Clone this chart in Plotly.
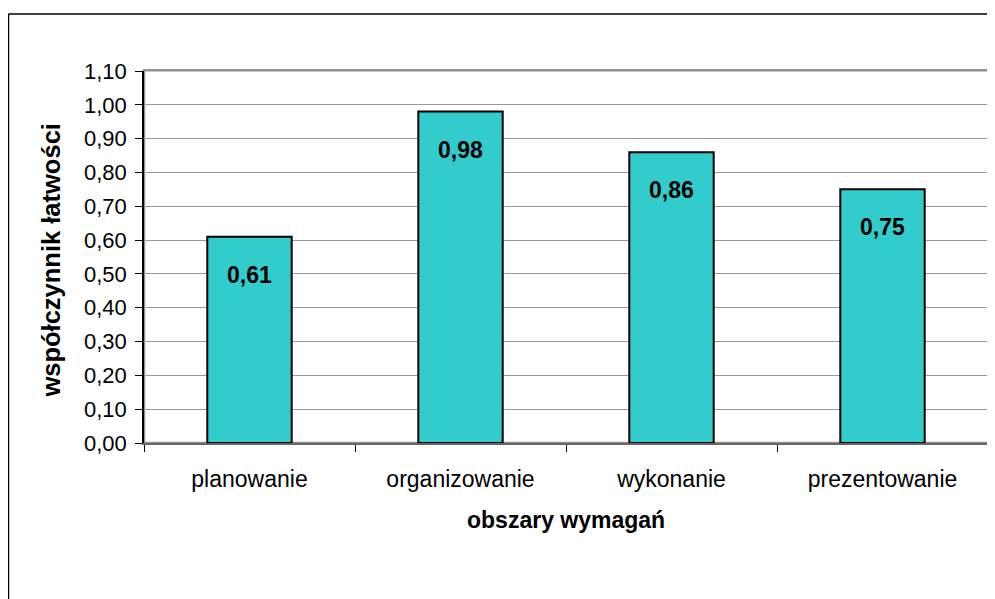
import plotly.graph_objects as go

categories = ["planowanie", "organizowanie", "wykonanie", "prezentowanie"]
values = [0.61, 0.98, 0.86, 0.75]
value_labels = ["0,61", "0,98", "0,86", "0,75"]
y_ticks = [0.0, 0.1, 0.2, 0.3, 0.4, 0.5, 0.6, 0.7, 0.8, 0.9, 1.0, 1.1]
x_title = "obszary wymagań"
y_title = "współczynnik łatwości"

font_family = "Liberation Sans, Arial, sans-serif"

fig = go.Figure()
fig.add_trace(go.Bar(
    x=categories, y=values,
    marker=dict(color="#33CCCC", line=dict(color="black", width=2)),
    width=0.4,
    hoverinfo="skip",
))

for c, v, t in zip(categories, values, value_labels):
    fig.add_annotation(x=c, y=v, text="<b>%s</b>" % t, showarrow=False,
                       yanchor="middle", yshift=-38,
                       font=dict(family=font_family, size=23, color="black"))

# axis titles
fig.add_annotation(xref="paper", yref="paper", x=0.5, y=-0.207, text="<b>%s</b>" % x_title,
                   showarrow=False, xanchor="center", yanchor="middle",
                   font=dict(family=font_family, size=23, color="black"))
fig.add_annotation(xref="paper", yref="paper", x=-0.1102, y=0.493, text="<b>%s</b>" % y_title,
                   showarrow=False, xanchor="center", yanchor="middle", textangle=-90,
                   font=dict(family=font_family, size=25.5, color="black"))

# outer chart frame (top and left edges visible)
fig.add_shape(type="line", xref="paper", yref="paper", x0=-0.16055, x1=1.01, y0=1.1532, y1=1.1532,
              line=dict(color="black", width=1.5))
fig.add_shape(type="line", xref="paper", yref="paper", x0=-0.16055, x1=-0.16055, y0=1.1532, y1=-0.5,
              line=dict(color="black", width=1.5))
# plot area border (gray)
fig.add_shape(type="rect", xref="paper", yref="paper", x0=0, x1=1.001, y0=0, y1=1.002,
              line=dict(color="#929292", width=2.5), layer="below")

fig.update_layout(
    width=987, height=591,
    margin=dict(l=136, r=7, t=63, b=156),
    paper_bgcolor="white", plot_bgcolor="white",
    separators=", ",
    showlegend=False,
    font=dict(family=font_family, size=22, color="black"),
    xaxis=dict(
        showline=True, linecolor="#666666", linewidth=2,
        ticks="outside", tickson="boundaries", ticklen=7, tickcolor="black",
        tickfont=dict(size=23), showgrid=False, ticklabelstandoff=14,
    ),
    yaxis=dict(
        range=[0, 1.1], tickvals=y_ticks, tickformat=".2f",
        showline=True, linecolor="black", linewidth=1.5,
        ticks="outside", ticklen=7, tickcolor="black",
        showgrid=True, gridcolor="#999999", gridwidth=1,
        tickfont=dict(size=22), zeroline=False, ticklabelstandoff=4,
    ),
)

fig.write_html("out.html")
